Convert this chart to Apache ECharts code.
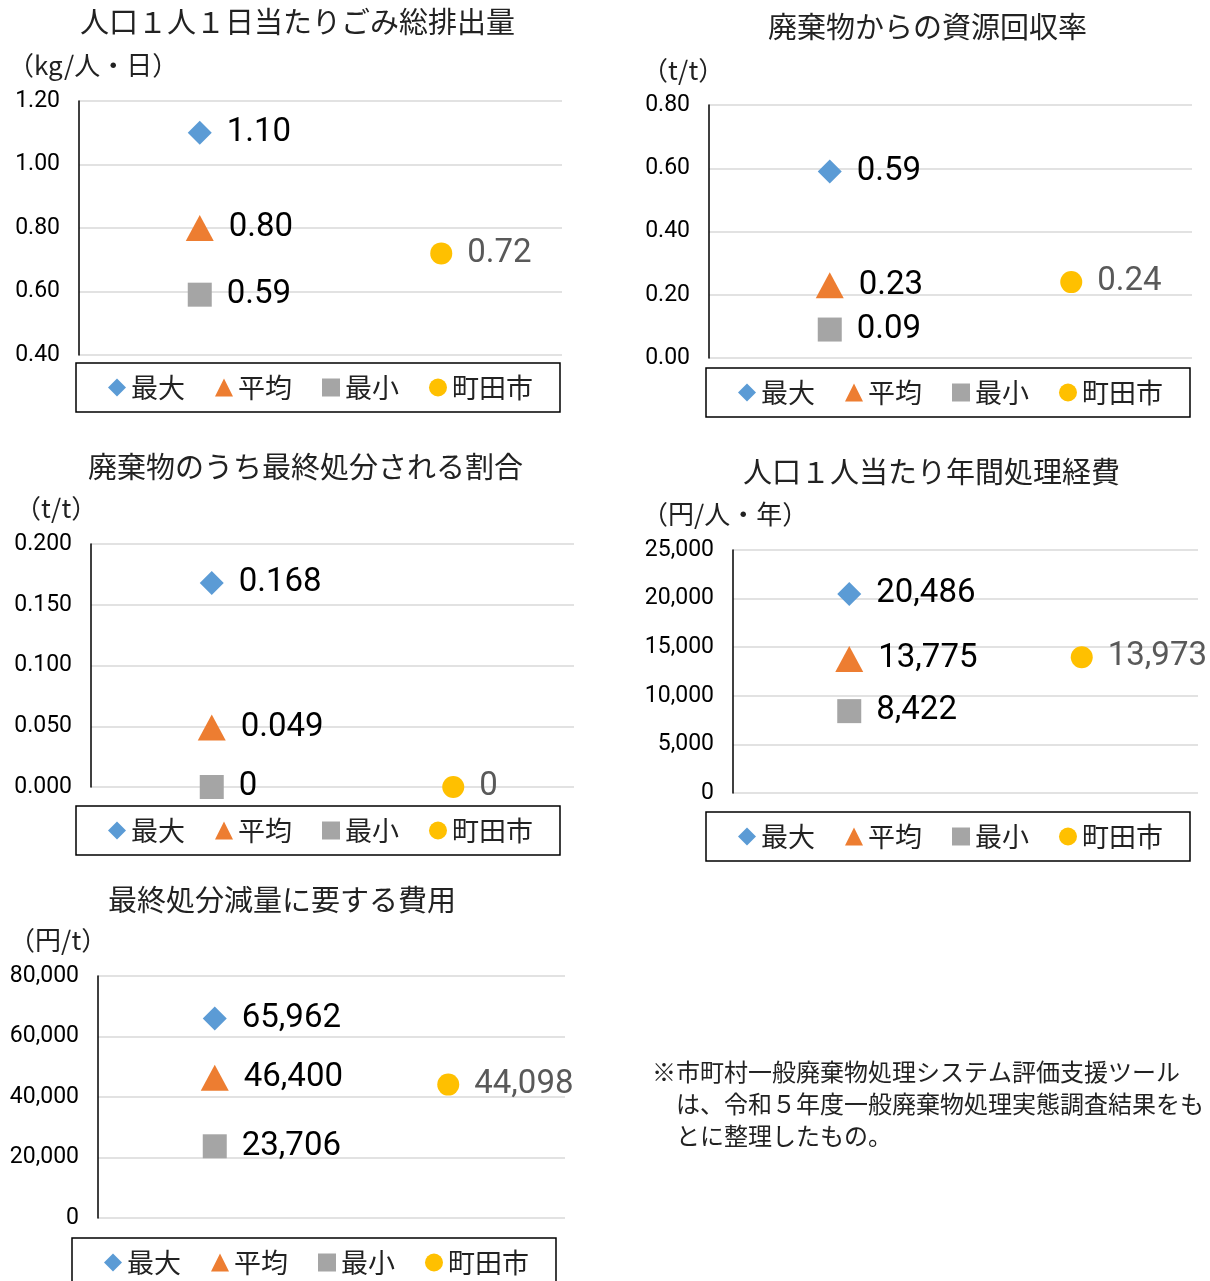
<!DOCTYPE html>
<html>
<head>
<meta charset="utf-8">
<script src="https://cdn.jsdelivr.net/npm/echarts@6/dist/echarts.min.js"></script>
<style>
  html, body { margin: 0; padding: 0; background: #fff; }
  #chart { width: 1210px; height: 1281px; }
</style>
</head>
<body>
<div id="chart"></div>
<script>
// series / categories
const seriesNames = ['最大', '平均', '最小', '町田市'];
const categories = ['全国', '町田市'];

// values per panel: [最大, 平均, 最小, 町田市]
const wastePerCapita = [1.10, 0.80, 0.59, 0.72];
const recoveryRate = [0.59, 0.23, 0.09, 0.24];
const landfillRate = [0.168, 0.049, 0, 0];
const costPerCapita = [20486, 13775, 8422, 13973];
const landfillCost = [65962, 46400, 23706, 44098];

// titles / units
const panelTitles = [
  '人口１人１日当たりごみ総排出量',
  '廃棄物からの資源回収率',
  '廃棄物のうち最終処分される割合',
  '人口１人当たり年間処理経費',
  '最終処分減量に要する費用'
];
const panelUnits = ['（kg/人・日）', '（t/t）', '（t/t）', '（円/人・年）', '（円/t）'];

// y axis ranges: [min, max, interval]
const axisRanges = [
  [0.4, 1.2, 0.2],
  [0, 0.8, 0.2],
  [0, 0.2, 0.05],
  [0, 25000, 5000],
  [0, 80000, 20000]
];
const footNote = '※市町村一般廃棄物処理システム評価支援ツール\n　は、令和５年度一般廃棄物処理実態調査結果をも\n　とに整理したもの。';

const jpFont = "'Noto Sans CJK JP', sans-serif";
const numFont = "Roboto, sans-serif";
const colors = ['#5B9BD5', '#ED7D31', '#A5A5A5', '#FFC000'];
const symbols = ['diamond', 'triangle', 'rect', 'circle'];
const symbolSizes = [[24, 24], [28, 26], [24, 24], [22, 22]];

const comma = v => v.toLocaleString('en-US');

// layout of each panel
const panels = [
  { data: wastePerCapita, grid: [79, 101, 483, 254], title: [80, 7], unit: [8, 52], legend: [76, 363], axisFmt: v => v.toFixed(2), fmt: v => v.toFixed(2) },
  { data: recoveryRate, grid: [709, 105, 483, 253], title: [768, 12], unit: [642, 57], legend: [706, 368], axisFmt: v => v.toFixed(2), fmt: v => v.toFixed(2) },
  { data: landfillRate, grid: [91, 544, 483, 243], title: [88, 452], unit: [15, 495], legend: [76, 806], axisFmt: v => v.toFixed(3), fmt: v => v === 0 ? '0' : v.toFixed(3) },
  { data: costPerCapita, grid: [733, 550, 465, 243], title: [743, 457], unit: [642, 501], legend: [706, 812], axisFmt: comma, fmt: comma },
  { data: landfillCost, grid: [98, 976, 467, 242], title: [108, 885], unit: [9, 927], legend: [72, 1238], axisFmt: comma, fmt: comma }
];

const chart = echarts.init(document.getElementById('chart'), null, { renderer: 'canvas' });

const grid = [], xAxis = [], yAxis = [], series = [], title = [], legend = [];

panels.forEach((p, i) => {
  grid.push({ left: p.grid[0], top: p.grid[1], width: p.grid[2], height: p.grid[3] });
  xAxis.push({
    type: 'category', gridIndex: i, data: categories, boundaryGap: true,
    axisLine: { show: false }, axisTick: { show: false }, axisLabel: { show: false }, splitLine: { show: false }
  });
  const r = axisRanges[i];
  yAxis.push({
    type: 'value', gridIndex: i, min: r[0], max: r[1], interval: r[2],
    axisLine: { show: true, lineStyle: { color: '#000', width: 1.5 } },
    axisTick: { show: false },
    axisLabel: { color: '#000', fontFamily: numFont, fontSize: 23, margin: 19, formatter: p.axisFmt },
    splitLine: { lineStyle: { color: '#D9D9D9', width: 1.5 } }
  });
  title.push({
    text: panelTitles[i], left: p.title[0], top: p.title[1], padding: 0,
    textStyle: { fontFamily: jpFont, fontSize: 29, fontWeight: 'normal', color: '#222' }
  });
  title.push({
    text: panelUnits[i], left: p.unit[0], top: p.unit[1], padding: 0,
    textStyle: { fontFamily: jpFont, fontSize: 26, fontWeight: 'normal', color: '#222' }
  });
  legend.push({
    left: p.legend[0], top: p.legend[1], orient: 'horizontal',
    data: seriesNames.map((n, k) => ({ name: n, icon: symbols[k] })),
    selectedMode: false,
    itemWidth: 18, itemHeight: 18, itemGap: 30,
    padding: [11, 27, 11, 32],
    borderColor: '#000', borderWidth: 1.5,
    textStyle: { fontFamily: jpFont, fontSize: 27, color: '#222' }
  });
  seriesNames.forEach((name, k) => {
    series.push({
      type: 'scatter', name: name, xAxisIndex: i, yAxisIndex: i, clip: false,
      symbol: symbols[k], symbolSize: symbolSizes[k],
      itemStyle: { color: colors[k], opacity: 1 },
      label: {
        show: true, position: 'right', distance: 15,
        fontFamily: numFont, fontSize: 33,
        color: k === 3 ? '#595959' : '#000',
        formatter: d => p.fmt(d.value[1])
      },
      data: [[k === 3 ? 1 : 0, p.data[k]]]
    });
  });
});

const option = {
  animation: false,
  color: colors,
  title: title,
  legend: legend,
  grid: grid,
  xAxis: xAxis,
  yAxis: yAxis,
  series: series,
  graphic: [{
    type: 'text', left: 652, top: 1056,
    style: { text: footNote, font: "24px 'Noto Sans CJK JP'", fill: '#222', lineHeight: 32 }
  }]
};
chart.setOption(option);
</script>
</body>
</html>
